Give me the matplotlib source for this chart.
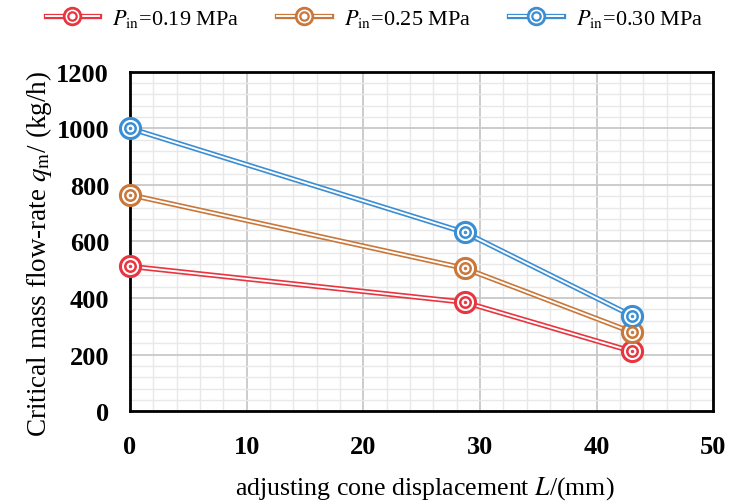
import matplotlib
matplotlib.use("Agg")
import matplotlib.pyplot as plt
from matplotlib.lines import Line2D
from matplotlib.legend_handler import HandlerTuple
from matplotlib.ticker import MultipleLocator

plt.rcParams['font.family'] = ['Liberation Serif', 'DejaVu Serif']
plt.rcParams['mathtext.fontset'] = 'stix'

x = [0, 28.7, 43.0]
q_019 = [512, 385, 212]
q_025 = [765, 505, 280]
q_030 = [1000, 632, 338]
labels = [r'$P_{\mathrm{in}}$=0.19 MPa', r'$P_{\mathrm{in}}$=0.25 MPa', r'$P_{\mathrm{in}}$=0.30 MPa']
colors = ['#E8353F', '#C9773A', '#3B8ED3']
series = [q_019, q_025, q_030]

fig = plt.figure(figsize=(7.3, 5.02), dpi=100)
ax = fig.add_axes([0.178, 0.179, 0.799, 0.676])

handles = []
for ys, c, lab in zip(series, colors, labels):
    ax.plot(x, ys, color=c, lw=3.8, solid_capstyle='butt', zorder=3, clip_on=False)
    ax.plot(x, ys, color='white', lw=1.4, solid_capstyle='butt', zorder=4, clip_on=False)
    ax.plot(x, ys, ls='none', marker='o', ms=14.5, mfc='white', mec=c, mew=2.2, zorder=5, clip_on=False)
    ax.plot(x, ys, ls='none', marker='o', ms=7.5, mfc='white', mec=c, mew=1.8, zorder=6, clip_on=False)
    ax.plot(x, ys, ls='none', marker='o', ms=2, mfc=c, mec=c, mew=0.5, zorder=7, clip_on=False)
    h = (Line2D([], [], color=c, lw=3.8),
         Line2D([], [], color='white', lw=1.4),
         Line2D([], [], ls='none', marker='o', ms=12, mfc='white', mec=c, mew=2.0),
         Line2D([], [], ls='none', marker='o', ms=6, mfc='white', mec=c, mew=1.6))
    handles.append(h)

ax.set_xlim(0, 50)
ax.set_ylim(0, 1200)
ax.xaxis.set_major_locator(MultipleLocator(10))
ax.xaxis.set_minor_locator(MultipleLocator(2))
ax.yaxis.set_major_locator(MultipleLocator(200))
ax.yaxis.set_minor_locator(MultipleLocator(40))
ax.grid(which='major', color='#C8C8C8', lw=1.3, zorder=0)
ax.grid(which='minor', color='#E8E8E8', lw=1.0, zorder=0)
ax.set_axisbelow(True)
ax.tick_params(which='both', length=0)
ax.tick_params(axis='x', pad=17)
ax.tick_params(axis='y', pad=15)
for lab in ax.get_xticklabels() + ax.get_yticklabels():
    lab.set_fontweight('bold')
    lab.set_fontsize(19)
for s in ax.spines.values():
    s.set_linewidth(2)
    s.set_color('black')

ax.set_xlabel(r'adjusting cone displacement $L$/(mm)', fontsize=18.6)
ax.xaxis.set_label_coords(0.505, -0.186)
ax.set_ylabel(r'Critical mass flow-rate $q_{\mathrm{m}}$/ (kg/h)', fontsize=19.5)
ax.yaxis.set_label_coords(-0.13, 0.465)

fig.legend(handles, labels, handler_map={tuple: HandlerTuple(ndivide=1, pad=0)},
           loc='center', bbox_to_anchor=(0.513, 0.963), ncol=3, frameon=False,
           fontsize=16, handlelength=2.4, columnspacing=1.7, handletextpad=0.6)

fig.savefig('out.png', dpi=100)
